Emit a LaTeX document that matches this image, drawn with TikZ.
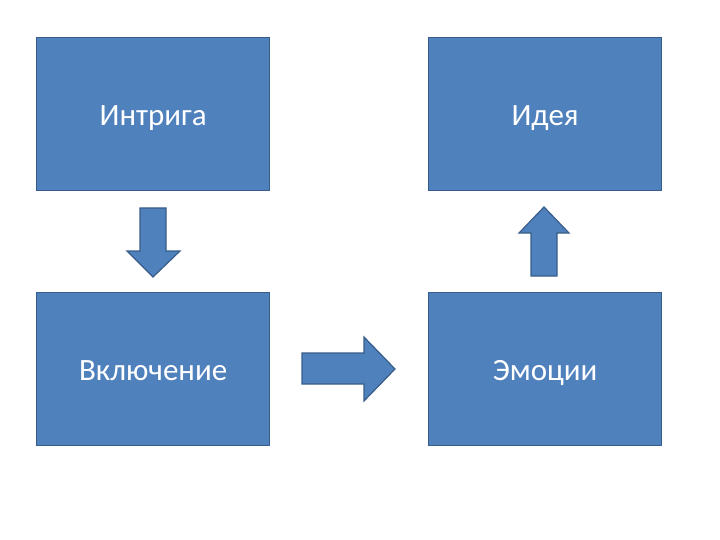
\documentclass[tikz,border=0pt]{standalone}
\usepackage{fontspec}
\setmainfont{Carlito}
\usetikzlibrary{positioning}

\definecolor{boxblue}{HTML}{4F81BD}
\definecolor{boxline}{HTML}{385D8A}

\begin{document}
\begin{tikzpicture}[
  x=1pt, y=-1pt,
  box/.style={draw=boxline, fill=boxblue, line width=1.2pt, minimum width=233pt, minimum height=153pt,
    text=white, font=\fontsize{31}{36}\selectfont, text height=26pt, text depth=3pt, anchor=north west},
  blockarrow/.style={draw=boxline, fill=boxblue, line width=1.2pt, line join=miter}
]
\useasboundingbox (0,0) rectangle (720,540);
\node[box] (intrigue) at (36,37) {Интрига};
\node[box] (idea) at (428,37) {Идея};
\node[box] (inclusion) at (36,292) {Включение};
\node[box] (emotions) at (428,292) {Эмоции};
% block arrows between the boxes
\draw[blockarrow] (140,208) -- (166,208) -- (166,251) -- (180,251) -- (153,277)
  -- (127,251) -- (140,251) -- cycle;
\draw[blockarrow] (302,353) -- (364,353) -- (364,337) -- (395,369) -- (364,401)
  -- (364,384) -- (302,384) -- cycle;
\draw[blockarrow] (531,276) -- (557,276) -- (557,233) -- (569,233) -- (544,207)
  -- (519,233) -- (531,233) -- cycle;
\end{tikzpicture}
\end{document}
